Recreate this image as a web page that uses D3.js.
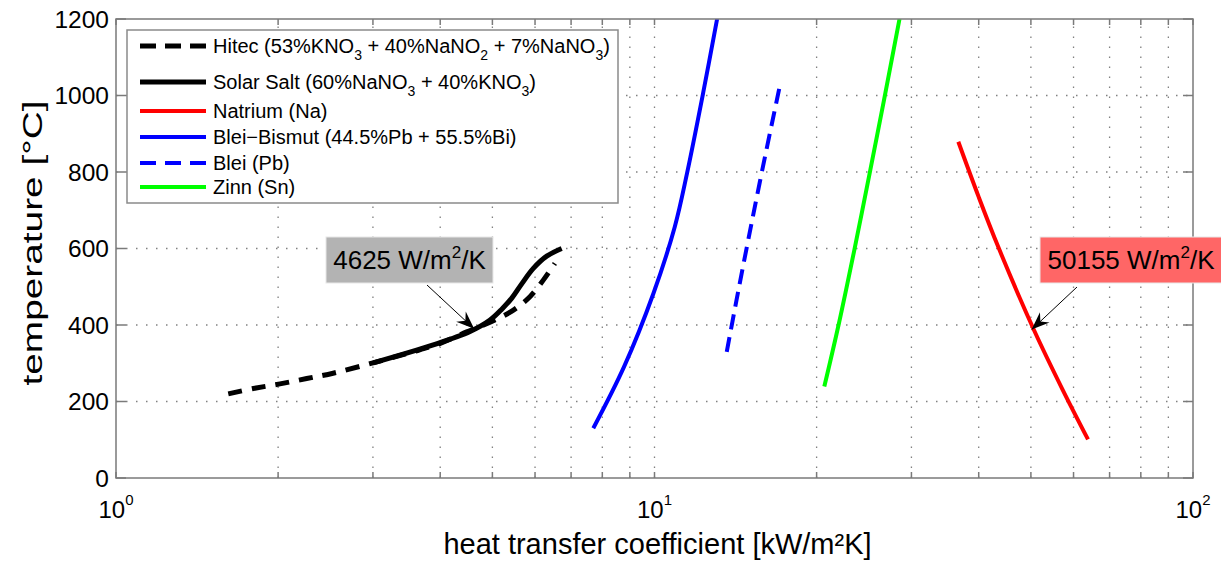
<!DOCTYPE html>
<html><head><meta charset="utf-8">
<script src="https://cdn.jsdelivr.net/npm/d3@7"></script>
<style>body{margin:0;background:#fff}svg{display:block}text{font-family:"Liberation Sans",Arial,sans-serif;fill:#000}</style>
</head><body><svg id="c" width="1221" height="561"></svg>
<script>
// ---- data ----
const hitecX = [1.616,1.80,2.016,2.26,2.53,3.0,3.565,4.0,4.48,5.02,5.47,5.87,6.22,6.53];
const hitecT = [220,234,246,260,274,301,330,352,382,411,439,474,518,561];
const solarX = [3.004,3.883,4.544,4.95,5.21,5.437,5.651,5.956,6.307,6.724];
const solarT = [301,348,383,413,442,471,505,548,580,600];
const naX = [36.66,39.99,43.46,50.66,57.31,63.83];
const naT = [879,735,605,387,230,101];
const pbbiX = [7.697,8.781,9.957,10.907,11.494,12.31,13.07];
const pbbiT = [130,291,483,657,797,1006,1200];
const pbX = [13.62,14.20,14.89,15.90,17.13];
const pbT = [330,465,614,814,1032];
const snX = [20.67,22.00,23.50,25.16,26.68,28.51];
const snT = [239,404,596,805,988,1200];
const yTicks = [0,200,400,600,800,1000,1200];
const xMajor = [1,10,100];
const xExp = ["0","1","2"];
const xMinor = [2,3,4,5,6,7,8,9,20,30,40,50,60,70,80,90];
const annoHitec = {x:4.625, t:390, label:"4625 W/m", sup:"2", tail:"/K"};
const annoNa = {x:50.155, t:388, label:"50155 W/m", sup:"2", tail:"/K"};
const xLabel = "heat transfer coefficient [kW/m²K]";
const yLabel = "temperature [°C]";

const series = [
  {x:hitecX, t:hitecT, color:"#000", dash:"14,10", w:5, name:[["Hitec (53%KNO",""],["3","sub"],[" + 40%NaNO",""],["2","sub"],[" + 7%NaNO",""],["3","sub"],[")",""]]},
  {x:solarX, t:solarT, color:"#000", dash:null, w:5, name:[["Solar Salt (60%NaNO",""],["3","sub"],[" + 40%KNO",""],["3","sub"],[")",""]]},
  {x:naX, t:naT, color:"#ff0000", dash:null, w:4, name:[["Natrium (Na)",""]]},
  {x:pbbiX, t:pbbiT, color:"#0000ff", dash:null, w:4, name:[["Blei\u2212Bismut (44.5%Pb + 55.5%Bi)",""]]},
  {x:pbX, t:pbT, color:"#0000ff", dash:"15,8", w:4, name:[["Blei (Pb)",""]]},
  {x:snX, t:snT, color:"#00ff00", dash:null, w:4, name:[["Zinn (Sn)",""]]}
];

const L=116,R=1193,T=19,B=478;
const x = d3.scaleLog().domain([1,100]).range([L,R]);
const y = d3.scaleLinear().domain([0,1200]).range([B,T]);
const svg = d3.select("#c");
const defs = svg.append("defs");
defs.append("clipPath").attr("id","clip").append("rect").attr("x",L).attr("y",T).attr("width",R-L).attr("height",B-T);
defs.append("marker").attr("id","ah").attr("viewBox","-19 -8 20 16").attr("refX",0).attr("refY",0)
  .attr("markerWidth",20).attr("markerHeight",16).attr("markerUnits","userSpaceOnUse").attr("orient","auto")
  .append("path").attr("d","M0,0 L-18,-7 L-12,0 L-18,7 Z").attr("fill","#000");

// grid
const grid = svg.append("g").attr("stroke","#808080").attr("stroke-width",1.3).attr("stroke-dasharray","1.5,8.5");
grid.selectAll(".gx").data(xMinor.concat([10])).enter().append("line")
  .attr("x1",d=>x(d)).attr("x2",d=>x(d)).attr("y1",B).attr("y2",T);
grid.selectAll(".gy").data(yTicks.slice(1,-1)).enter().append("line")
  .attr("x1",L).attr("x2",R).attr("y1",d=>y(d)).attr("y2",d=>y(d));

// curves
const line = d3.line().x(d=>x(d[0])).y(d=>y(d[1])).curve(d3.curveCatmullRom.alpha(0.5));
const curves = svg.append("g").attr("clip-path","url(#clip)");
series.forEach(s=>{
  curves.append("path").datum(s.x.map((v,i)=>[v,s.t[i]]))
    .attr("d",line).attr("fill","none").attr("stroke",s.color).attr("stroke-width",s.w)
    .attr("stroke-dasharray",s.dash).attr("stroke-linecap","butt").attr("stroke-linejoin","round");
});

// axes frame and ticks
const ax = svg.append("g").attr("stroke","#7a7a7a").attr("stroke-width",1.5);
ax.append("rect").attr("x",L).attr("y",T).attr("width",R-L).attr("height",B-T).attr("fill","none");
const xt = xMinor.concat(xMajor);
ax.selectAll(".tb").data(xt).enter().append("line").attr("x1",d=>x(d)).attr("x2",d=>x(d)).attr("y1",B).attr("y2",B-6);
ax.selectAll(".tt").data(xt).enter().append("line").attr("x1",d=>x(d)).attr("x2",d=>x(d)).attr("y1",T).attr("y2",T+6);
ax.selectAll(".tl").data(yTicks).enter().append("line").attr("x1",L).attr("x2",L+10).attr("y1",d=>y(d)).attr("y2",d=>y(d));
ax.selectAll(".tr").data(yTicks).enter().append("line").attr("x1",R).attr("x2",R-10).attr("y1",d=>y(d)).attr("y2",d=>y(d));

// y tick labels
svg.append("g").selectAll("text").data(yTicks).enter().append("text")
  .attr("x",L-7).attr("y",d=>y(d)).attr("dy","0.36em").attr("text-anchor","end").attr("font-size",24.5).text(d=>d);
// x tick labels
const xl = svg.append("g").selectAll("text").data(xMajor).enter().append("text")
  .attr("x",d=>x(d)).attr("y",518).attr("text-anchor","middle").attr("font-size",24);
xl.append("tspan").text("10");
xl.append("tspan").attr("font-size",15).attr("dy",-13).text((d,i)=>xExp[i]);

// axis labels
svg.append("text").attr("x",(L+R)/2+3).attr("y",554).attr("text-anchor","middle").attr("font-size",29).text(xLabel);
svg.append("text").attr("transform","translate(42,243) rotate(-90)").attr("text-anchor","middle")
  .attr("font-size",27).attr("textLength",285).attr("lengthAdjust","spacingAndGlyphs").text(yLabel);

// legend
const lg = svg.append("g");
lg.append("rect").attr("x",127).attr("y",30).attr("width",491).attr("height",173).attr("fill","#fff").attr("stroke","#8a8a8a").attr("stroke-width",1.5);
const rowsY = [46,82,111,137,163,187];
series.forEach((s,i)=>{
  lg.append("line").attr("x1",140).attr("x2",206).attr("y1",rowsY[i]).attr("y2",rowsY[i])
    .attr("stroke",s.color).attr("stroke-width",s.w).attr("stroke-dasharray",s.dash?"16,9":null);
  const t = lg.append("text").attr("x",213).attr("y",rowsY[i]).attr("dy","0.36em").attr("font-size",20);
  s.name.forEach(p=>{
    if(p[1]==="sub"){ t.append("tspan").attr("font-size",14).attr("dy",7).text(p[0]); }
    else { const ts=t.append("tspan").text(p[0]); if(t.node().childNodes.length>1 && s.name.length>1) ts.attr("dy",-7); }
  });
});

// annotations
function anno(a, box, tail, fill){
  const g = svg.append("g");
  g.append("rect").attr("x",box[0]).attr("y",box[1]).attr("width",box[2]).attr("height",box[3])
    .attr("fill",fill).attr("stroke","#e8e8e8").attr("stroke-width",1);
  const t = g.append("text").attr("x",box[0]+box[2]/2).attr("y",box[1]+box[3]/2+9).attr("text-anchor","middle").attr("font-size",26);
  t.append("tspan").text(a.label);
  t.append("tspan").attr("font-size",17).attr("dy",-11).text(a.sup);
  t.append("tspan").attr("dy",11).text(a.tail);
  g.append("line").attr("x1",tail[0]).attr("y1",tail[1]).attr("x2",x(a.x)).attr("y2",y(a.t))
    .attr("stroke","#000").attr("stroke-width",1).attr("marker-end","url(#ah)");
}
anno(annoHitec,[326,237,167,46],[427,285],"#b3b3b3");
anno(annoNa,[1040,237,182,46],[1077,287],"#ff6666");
</script></body></html>
